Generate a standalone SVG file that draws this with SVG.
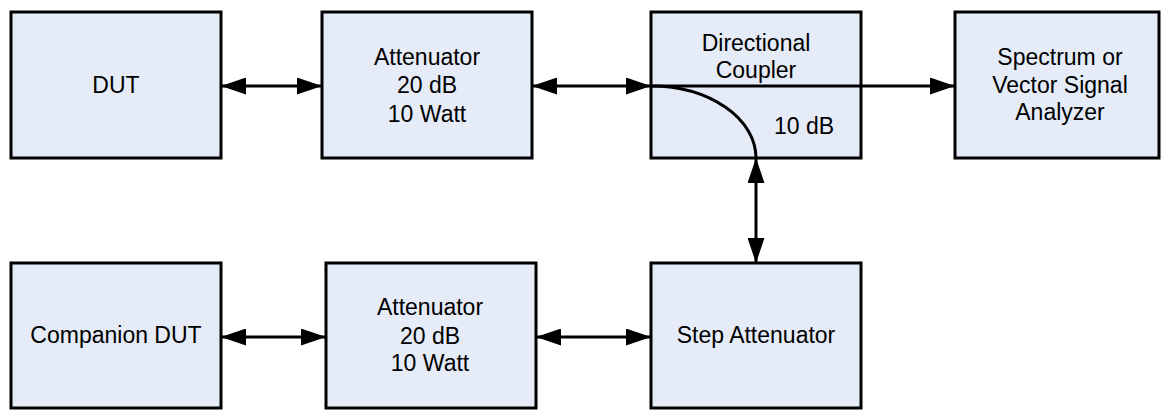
<svg xmlns="http://www.w3.org/2000/svg" width="1161" height="410" viewBox="0 0 1161 410">
  <style>
    .box { fill: #E5EBF7; stroke: #000; stroke-width: 3; }
    .lbl { font-family: "Liberation Sans", Arial, sans-serif; font-size: 23px; fill: #000; text-anchor: middle; }
    .con { fill: none; stroke: #000; stroke-width: 3; }
  </style>
  <defs>
    <marker id="arr" markerUnits="userSpaceOnUse" markerWidth="25" markerHeight="17" viewBox="0 0 25 17" refX="25" refY="8.5" orient="auto-start-reverse">
      <path d="M0,0 L25,8.5 L0,17 z" fill="#000"/>
    </marker>
  </defs>
  <rect width="1161" height="410" fill="#fff"/>

  <g id="dut">
    <rect class="box" x="11" y="12" width="210" height="146"/>
    <text class="lbl" x="116" y="93">DUT</text>
  </g>
  <g id="attenuator1">
    <rect class="box" x="322" y="12" width="210" height="146"/>
    <text class="lbl" x="427" y="65">Attenuator</text>
    <text class="lbl" x="427" y="93">20 dB</text>
    <text class="lbl" x="427" y="122">10 Watt</text>
  </g>
  <g id="coupler">
    <rect class="box" x="651" y="12" width="210" height="146"/>
    <text class="lbl" x="756" y="51">Directional</text>
    <text class="lbl" x="756" y="78">Coupler</text>
    <text class="lbl" x="804" y="134">10 dB</text>
  </g>
  <g id="analyzer">
    <rect class="box" x="955" y="12" width="204" height="146"/>
    <text class="lbl" x="1060" y="65">Spectrum or</text>
    <text class="lbl" x="1060" y="93">Vector Signal</text>
    <text class="lbl" x="1060" y="120">Analyzer</text>
  </g>
  <g id="companion">
    <rect class="box" x="11" y="263" width="210" height="145"/>
    <text class="lbl" x="116" y="343">Companion DUT</text>
  </g>
  <g id="attenuator2">
    <rect class="box" x="326" y="263" width="210" height="145"/>
    <text class="lbl" x="430" y="315">Attenuator</text>
    <text class="lbl" x="430" y="344">20 dB</text>
    <text class="lbl" x="430" y="371">10 Watt</text>
  </g>
  <g id="step">
    <rect class="box" x="651" y="263" width="210" height="145"/>
    <text class="lbl" x="756" y="343">Step Attenuator</text>
  </g>

  <g id="connectors">
    <line class="con" x1="221" y1="86" x2="322" y2="86" marker-start="url(#arr)" marker-end="url(#arr)"/>
    <line class="con" x1="532" y1="86" x2="651" y2="86" marker-start="url(#arr)" marker-end="url(#arr)"/>
    <line class="con" x1="651" y1="86" x2="955" y2="86" marker-end="url(#arr)"/>
    <path class="con" d="M651,86 A105,72 0 0 1 756,158"/>
    <line class="con" x1="756" y1="158" x2="756" y2="263" marker-start="url(#arr)" marker-end="url(#arr)"/>
    <line class="con" x1="221" y1="337" x2="326" y2="337" marker-start="url(#arr)" marker-end="url(#arr)"/>
    <line class="con" x1="536" y1="337" x2="651" y2="337" marker-start="url(#arr)" marker-end="url(#arr)"/>
  </g>
</svg>
